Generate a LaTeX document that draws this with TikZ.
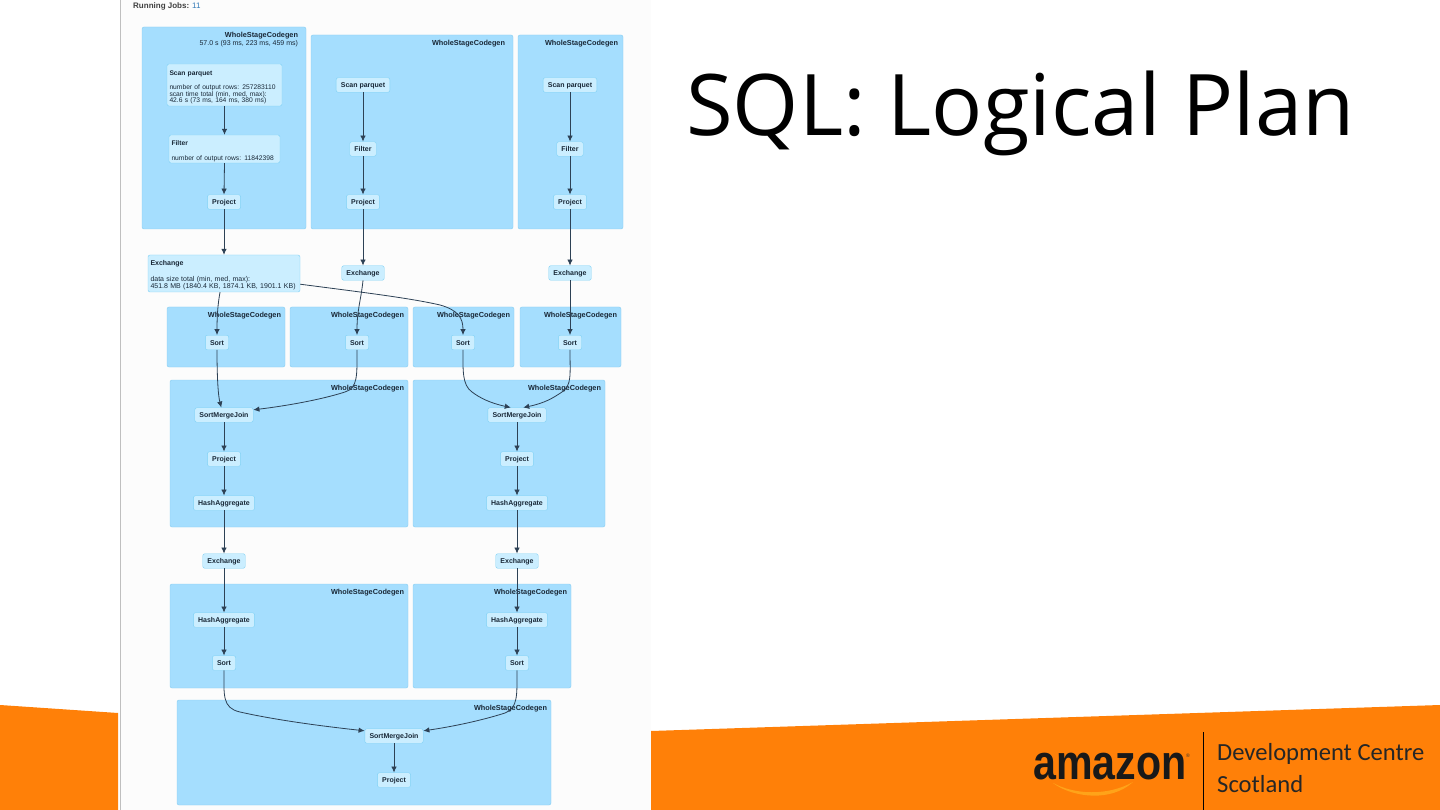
\documentclass[tikz,border=0pt]{standalone}
\usepackage{xcolor}
\usepackage{graphicx}
\usepackage{fontspec}
\usepackage{tikz}
\usetikzlibrary{arrows.meta,positioning}
\setmainfont{Liberation Sans}
\newfontfamily\slidefont{Open Sans}
\newfontfamily\logofont{Carlito}
\definecolor{clusterfill}{RGB}{165,222,254}
\definecolor{clusterline}{RGB}{135,205,240}
\definecolor{opfill}{RGB}{203,238,255}
\definecolor{opline}{RGB}{125,208,245}
\definecolor{edgecol}{RGB}{45,65,85}
\definecolor{textcol}{RGB}{25,40,55}
\definecolor{band}{RGB}{255,128,8}
\definecolor{swoosh}{RGB}{255,163,25}
\definecolor{linkblue}{RGB}{51,122,183}

\begin{document}
\begin{tikzpicture}[
  x=1pt,y=-1pt,
  font=\fontsize{7}{6.5}\selectfont,
  cluster/.style={draw=clusterline,fill=clusterfill,rounded corners=2pt,inner sep=0pt},
  clabel/.style={inner sep=0pt,anchor=north east,align=right,text=textcol},
  wsc/.style={clabel,font=\fontsize{7.3}{7}\selectfont\bfseries},
  opnode/.style={draw=opline,fill=opfill,rounded corners=2pt,minimum height=14.5pt,inner xsep=4.7pt,inner ysep=0pt,text height=6pt,text depth=0.5pt,text=textcol,font=\fontsize{7}{7}\selectfont\bfseries},
  infonode/.style={draw=opline,fill=opfill,rounded corners=2pt,inner xsep=2.5pt,inner ysep=0pt,align=left,text=textcol,font=\fontsize{6.7}{6.5}\selectfont},
  edge/.style={-{Latex[length=6pt,width=5.5pt]},color=edgecol,line width=0.8pt},
]
\useasboundingbox (0,0) rectangle (1440,810);

% slide background
\fill[white] (0,0) rectangle (1440,810);
\fill[band] (0,705) -- (118,713) -- (118,810) -- (0,810) -- cycle;
\fill[band] (651,731) -- (1440,705) -- (1440,810) -- (651,810) -- cycle;
\fill[black!1] (120,0) rectangle (651,810);
\draw[black!25,line width=1pt] (120,0) -- (120,810);
\draw[black!80,line width=1pt] (120,0) -- (651,0);
\node[inner sep=0pt,anchor=base west,text=black!75,font=\fontsize{8}{8}\selectfont] (jobs) at (133,9) {\textbf{Running Jobs:} \textcolor{linkblue}{11}};

% clusters
\node[cluster,minimum width=164pt,minimum height=202pt] (cscan1) at (224,128) {};
\node[cluster,minimum width=202pt,minimum height=194pt] (cscan2) at (412,132) {};
\node[cluster,minimum width=105pt,minimum height=194pt] (cscan3) at (570.5,132) {};
\node[cluster,minimum width=118pt,minimum height=60pt] (csort1) at (226,337) {};
\node[cluster,minimum width=118pt,minimum height=60pt] (csort2) at (349,337) {};
\node[cluster,minimum width=101pt,minimum height=60pt] (csort3) at (463.5,337) {};
\node[cluster,minimum width=101pt,minimum height=60pt] (csort4) at (570.5,337) {};
\node[cluster,minimum width=238pt,minimum height=147pt] (cjoin1) at (289,453.5) {};
\node[cluster,minimum width=192pt,minimum height=147pt] (cjoin2) at (509,453.5) {};
\node[cluster,minimum width=238pt,minimum height=104pt] (chash1) at (289,636) {};
\node[cluster,minimum width=158pt,minimum height=104pt] (chash2) at (492,636) {};
\node[cluster,minimum width=374pt,minimum height=105pt] (clast) at (364,752.5) {};

% cluster labels
\node[clabel,below left=5pt and 8pt of cscan1.north east] (lscan1) {{\fontsize{7.3}{7}\selectfont\textbf{WholeStageCodegen}}\\[1pt]57.0 s (93 ms, 223 ms, 459 ms)};
\node[wsc,below left=5pt and 8pt of cscan2.north east] (lscan2) {WholeStageCodegen};
\node[wsc,below left=5pt and 5pt of cscan3.north east] (lscan3) {WholeStageCodegen};
\node[wsc,below left=5pt and 4pt of csort1.north east] (lsort1) {WholeStageCodegen};
\node[wsc,below left=5pt and 4pt of csort2.north east] (lsort2) {WholeStageCodegen};
\node[wsc,below left=5pt and 4pt of csort3.north east] (lsort3) {WholeStageCodegen};
\node[wsc,below left=5pt and 4pt of csort4.north east] (lsort4) {WholeStageCodegen};
\node[wsc,below left=5pt and 4pt of cjoin1.north east] (ljoin1) {WholeStageCodegen};
\node[wsc,below left=5pt and 4pt of cjoin2.north east] (ljoin2) {WholeStageCodegen};
\node[wsc,below left=5pt and 4pt of chash1.north east] (lhash1) {WholeStageCodegen};
\node[wsc,below left=5pt and 4pt of chash2.north east] (lhash2) {WholeStageCodegen};
\node[wsc,below left=5pt and 4pt of clast.north east] (llast) {WholeStageCodegen};

% first column
\node[infonode,text width=110pt,minimum height=42pt] (scan1) at (224.5,85) {\rule{0pt}{9pt}\textbf{Scan parquet}\\[8pt]number of output rows: 257283110\\scan time total (min, med, max):\\42.6 s (73 ms, 164 ms, 380 ms)};
\node[infonode,text width=106pt,minimum height=28pt] (filter1) at (224.5,149) {\rule{0pt}{9pt}\textbf{Filter}\\[8pt]number of output rows: 11842398};
\node[opnode] (proj1) at (224,202) {Project};
\node[infonode,text width=147pt,minimum height=37pt,font=\fontsize{7}{6.5}\selectfont] (exch1) at (224,273.5) {\rule{0pt}{9pt}\textbf{Exchange}\\[8pt]data size total (min, med, max):\\451.8 MB (1840.4 KB, 1874.1 KB, 1901.1 KB)};

% second column
\node[opnode] (scan2) at (363,85) {Scan parquet};
\node[opnode] (filter2) at (363,149) {Filter};
\node[opnode] (proj2) at (363,202) {Project};
\node[opnode] (exch2) at (363,273) {Exchange};

% third column
\node[opnode] (scan3) at (570,85) {Scan parquet};
\node[opnode] (filter3) at (570,149) {Filter};
\node[opnode] (proj3) at (570,202) {Project};
\node[opnode] (exch3) at (570,273) {Exchange};

% sorts
\node[opnode] (sort1) at (217,342.5) {Sort};
\node[opnode] (sort2) at (357,342.5) {Sort};
\node[opnode] (sort3) at (463,342.5) {Sort};
\node[opnode] (sort4) at (570,342.5) {Sort};

% joins and aggregates
\node[opnode] (join1) at (224,415) {SortMergeJoin};
\node[opnode] (proj4) at (224,459) {Project};
\node[opnode] (hash1) at (224,503) {HashAggregate};
\node[opnode] (exch4) at (224,561) {Exchange};
\node[opnode] (hash3) at (224,620) {HashAggregate};
\node[opnode] (sort5) at (224,663) {Sort};
\node[opnode] (join2) at (517,415) {SortMergeJoin};
\node[opnode] (proj5) at (517,459) {Project};
\node[opnode] (hash2) at (517,503) {HashAggregate};
\node[opnode] (exch5) at (517,561) {Exchange};
\node[opnode] (hash4) at (517,620) {HashAggregate};
\node[opnode] (sort6) at (517,663) {Sort};
\node[opnode] (join3) at (394,736) {SortMergeJoin};
\node[opnode] (proj6) at (394,780) {Project};

% arrows
\draw[edge] (scan1.south) -- (filter1.north);
\draw[edge] (filter1.south) -- (proj1.north);
\draw[edge] (proj1.south) -- (exch1.north);
\draw[edge] (scan2.south) -- (filter2.north);
\draw[edge] (filter2.south) -- (proj2.north);
\draw[edge] (proj2.south) -- (exch2.north);
\draw[edge] (scan3.south) -- (filter3.north);
\draw[edge] (filter3.south) -- (proj3.north);
\draw[edge] (proj3.south) -- (exch3.north);
\draw[edge] (exch3.south) -- (sort4.north);
\draw[edge] (exch1.-102) .. controls (218,303) and (217,315) .. (sort1.north);
\draw[edge] (exch1.-8) .. controls (360,292) and (410,298) .. (440,305) .. controls (458,310) and (463,318) .. (sort3.north);
\draw[edge] (exch2.south) .. controls (361,300) and (357,310) .. (sort2.north);
\draw[edge] (sort1.south) .. controls (217,375) and (218,395) .. (join1.110);
\draw[edge] (sort2.south) .. controls (357,375) and (358,388) .. (345,392) .. controls (320,400) and (285,406) .. (join1.10);
\draw[edge] (sort3.south) .. controls (463,370) and (462,385) .. (472,392) .. controls (480,398) and (490,403) .. (join2.130);
\draw[edge] (sort4.south) .. controls (570,375) and (572,385) .. (562,392) .. controls (553,398) and (545,403) .. (join2.50);
\draw[edge] (join1.south) -- (proj4.north);
\draw[edge] (proj4.south) -- (hash1.north);
\draw[edge] (hash1.south) -- (exch4.north);
\draw[edge] (exch4.south) -- (hash3.north);
\draw[edge] (hash3.south) -- (sort5.north);
\draw[edge] (join2.south) -- (proj5.north);
\draw[edge] (proj5.south) -- (hash2.north);
\draw[edge] (hash2.south) -- (exch5.north);
\draw[edge] (exch5.south) -- (hash4.north);
\draw[edge] (hash4.south) -- (sort6.north);
\draw[edge] (sort5.south) .. controls (224,695) and (222,708) .. (240,712) .. controls (280,721) and (330,727) .. (join3.170);
\draw[edge] (sort6.south) .. controls (517,695) and (518,708) .. (505,713) .. controls (480,721) and (450,727) .. (join3.10);
\draw[edge] (join3.south) -- (proj6.north);

% title and logo
\node[inner sep=0pt,anchor=base west,font=\fontsize{85}{85}\selectfont\slidefont] (title) at (686,136) {SQL: Logical Plan};
\node[inner sep=0pt,anchor=base west,font=\fontsize{49}{49}\selectfont\bfseries,text=black!90] (amazon) at (1033,779) {\scalebox{0.84}[1]{amazon}};
\node[inner sep=0pt,font=\fontsize{5}{5}\selectfont,text=black!80] (regmark) at (1188,756) {®};
\fill[swoosh] (1053,783) .. controls (1070,796) and (1105,802) .. (1128,786) -- (1133,782) .. controls (1108,796) and (1075,795) .. (1053,783) -- cycle;
\draw[black,line width=1pt] (1203,732) -- (1203,810);
\node[inner sep=0pt,anchor=base west,align=left,text=black!85,font=\fontsize{24.6}{32}\selectfont\logofont] (dcs) at (1217,792) {Development Centre\\Scotland};
\end{tikzpicture}
\end{document}
